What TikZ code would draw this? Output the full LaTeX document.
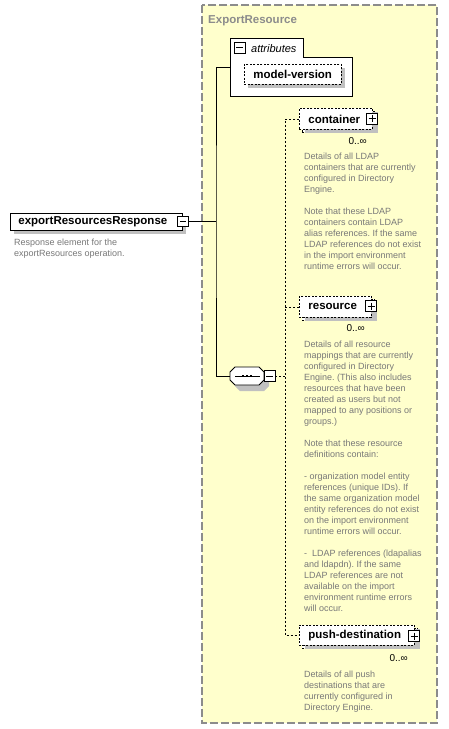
\documentclass[tikz,border=0pt]{standalone}
\usepackage{fontspec}
\setmainfont{Liberation Sans}
\usetikzlibrary{shadows}
\definecolor{yel}{HTML}{FFFFCC}
\definecolor{framegray}{HTML}{8C8C8C}
\definecolor{descgray}{HTML}{787878}
\definecolor{shad}{HTML}{C0C0C0}
\frenchspacing
\begin{document}
\begin{tikzpicture}[x=1pt,y=-1pt,
  every node/.style={inner sep=0pt},
  ename/.style={font=\fontsize{11.5}{13}\selectfont\bfseries, anchor=north west, align=left,
                line width=0.8pt, draw=black, fill=white, inner ysep=0pt},
  optional/.style={dash pattern=on 2pt off 1.5pt},
  gshadow/.style={general shadow={fill=shad, shadow xshift=#1, shadow yshift=-4pt}},
  multi/.style={copy shadow={shadow xshift=3pt, shadow yshift=-3pt}},
  pmbox/.style={draw=black, fill=white, line width=0.8pt, minimum size=11pt},
  minusbox/.style={pmbox, path picture={
      \draw[line width=0.8pt] ([xshift=2pt]path picture bounding box.west) -- ([xshift=-2pt]path picture bounding box.east);}},
  plusbox/.style={pmbox, path picture={
      \draw[line width=0.8pt] ([xshift=2pt]path picture bounding box.west) -- ([xshift=-2pt]path picture bounding box.east);
      \draw[line width=0.8pt] ([yshift=-2pt]path picture bounding box.north) -- ([yshift=2pt]path picture bounding box.south);}},
  desc/.style={anchor=north west, align=left, font=\fontsize{9}{11}\selectfont, text=descgray},
  mult/.style={anchor=base east, font=\fontsize{10}{12}\selectfont},
  conn/.style={line width=0.8pt},
  dconn/.style={line width=0.8pt, dash pattern=on 2pt off 2pt},
]
\useasboundingbox (0,0) rectangle (448,729);
\fill[white] (0,0) rectangle (448,729);

% group frame
\draw[fill=yel, draw=framegray, line width=1.2pt, dash pattern=on 8pt off 3pt] (202,5) rectangle (437,723);
\node[anchor=base west, font=\fontsize{11.5}{13}\selectfont\bfseries, text=framegray] (grp) at (208,23) {ExportResource};

% root element
\node[ename, gshadow=4pt, minimum height=17pt, text width=156pt, inner xsep=8pt] (root) at (10,213) {exportResourcesResponse};
\node[minusbox, minimum size=10.5pt] (rootm) at (183,221.5) {};
\node[desc] (rootd) at (14,238.5) {Response element for the\\exportResources operation.};

% attributes
\draw[fill=white, line width=0.8pt] (230,96) -- (230,38) -- (303,38) -- (303,57) -- (352,57) -- (352,96) -- cycle;
\node[minusbox] (attrm) at (239.5,47.5) {};
\node[anchor=base west, font=\fontsize{11}{13}\selectfont\itshape] (attrl) at (251,52) {attributes};
\coordinate (attrin) at (230,67);
\node[ename, optional, gshadow=4pt, minimum height=20pt, text width=79pt, inner xsep=9pt] (mv) at (244,64) {model-version};

% sequence
\node[minimum width=34pt, minimum height=18pt] (seq) at (247,376) {};
\fill[shad, shift={(seq.center)}, xshift=5pt, yshift=-6pt] (-12,-9) -- (12,-9) -- (17,-4) -- (17,4) -- (12,9) -- (-12,9) -- (-17,4) -- (-17,-4) -- cycle;
\draw[fill=white, line width=0.8pt, shift={(seq.center)}] (-12,-9) -- (12,-9) -- (17,-4) -- (17,4) -- (12,9) -- (-12,9) -- (-17,4) -- (-17,-4) -- cycle;
\draw[line width=0.8pt, shift={(seq.center)}] (-12,0) -- (13,0);
\foreach \d in {-4,0,4}{\fill[shift={(seq.center)}] (\d-1.3,-1.3) rectangle (\d+1.3,1.3);}
\node[minusbox] (seqm) at (269.5,376) {};

% connectors (solid)
\coordinate (j) at (216,221.5);
\draw[conn] (rootm.east) -- (j);
\draw[conn] (attrin) -| (j) |- (seq.west);

% children
\coordinate (spine) at (285,376);
\node[ename, optional, multi, gshadow=6pt, minimum height=21pt, text width=55pt, inner xsep=9pt] (container) at (299,108) {container};
\node[plusbox] (cplus) at (372,118.5) {};
\node[mult] (cmult) at (367,144) {0..∞};
\node[desc] (cdesc) at (304,153) {Details of all LDAP\\containers that are currently\\configured in Directory\\Engine.\\[11pt]Note that these LDAP\\containers contain LDAP\\alias references. If the same\\LDAP references do not exist\\in the import environment\\runtime errors will occur.};

\node[ename, optional, multi, gshadow=6pt, minimum height=21pt, text width=54pt, inner xsep=9pt] (resource) at (299,296) {resource};
\node[plusbox] (rplus) at (371,306) {};
\node[mult] (rmult) at (365,331) {0..∞};
\node[desc] (rdesc) at (304,340.5) {Details of all resource\\mappings that are currently\\configured in Directory\\Engine. (This also includes\\resources that have been\\created as users but not\\mapped to any positions or\\groups.)\\[11pt]Note that these resource\\definitions contain:\\[11pt]- organization model entity\\references (unique IDs). If\\the same organization model\\entity references do not exist\\on the import environment\\runtime errors will occur.\\[11pt]-\ \ LDAP references (ldapalias\\and ldapdn). If the same\\LDAP references are not\\available on the import\\environment runtime errors\\will occur.};

\node[ename, optional, multi, gshadow=6pt, minimum height=20pt, text width=97pt, inner xsep=9pt] (pushd) at (299,625) {push-destination};
\node[plusbox] (pplus) at (414,636) {};
\node[mult] (pmult) at (408,661) {0..∞};
\node[desc] (pdesc) at (304,670.5) {Details of all push\\destinations that are\\currently configured in\\Directory Engine.};

% connectors (dashed)
\draw[dconn] (seqm.east) -- (spine);
\draw[dconn] (container.west) -| (spine) |- (pushd.west);
\draw[dconn] (resource.west) -- (resource.west -| spine);
\end{tikzpicture}
\end{document}
